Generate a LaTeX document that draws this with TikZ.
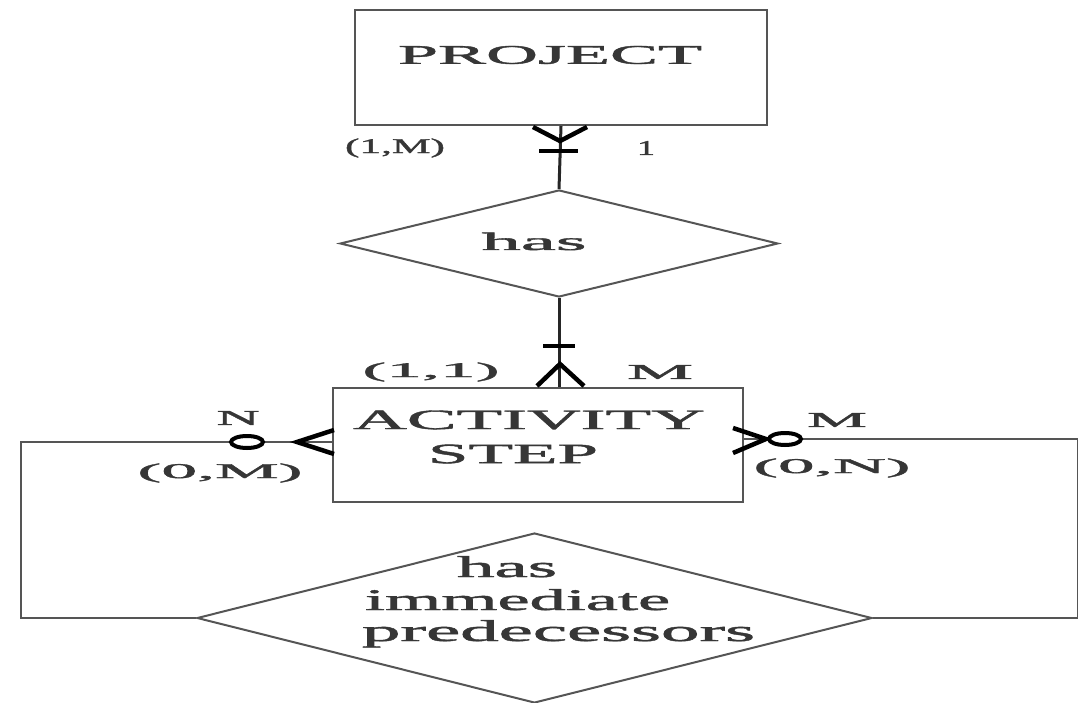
\documentclass[tikz,border=0pt]{standalone}
\usepackage{fontspec}
\setmainfont{Liberation Serif}[FakeBold=1.3]
\usetikzlibrary{shapes.geometric}
\definecolor{ink}{HTML}{363636}
\definecolor{edge}{HTML}{555555}
% stretch a text horizontally to a given width (pt), keeping its height
\newcommand{\widen}[2]{\resizebox{#1pt}{\height}{#2}}

\begin{document}
\begin{tikzpicture}[x=1pt,y=-1pt,
  entity/.style={draw=edge, line width=2pt, rectangle, inner sep=0pt},
  relation/.style={draw=edge, line width=2pt, diamond, inner sep=0pt},
  txt/.style={inner sep=0pt, text=ink},
  big/.style={txt, font=\fontsize{27}{30}\selectfont},
  card/.style={txt, font=\fontsize{21}{24}\selectfont},
  conn/.style={draw=black!85, line width=3pt},
  loopline/.style={draw=edge, line width=2pt},
  foot/.style={draw=black, line width=4.5pt},
  ring/.style={draw=black, line width=4pt, fill=white}]
\useasboundingbox (0,0) rectangle (1078,703);

% entities and relationships
\node[entity, minimum width=412pt, minimum height=115pt] (project) at (561,67.5) {};
\node[relation, minimum width=438pt, minimum height=107pt] (has) at (559,243.5) {};
\node[entity, minimum width=410pt, minimum height=114pt] (activity) at (538,445) {};
\node[relation, minimum width=675pt, minimum height=170pt] (pred) at (534.5,618) {};

% their texts
\node[big] (tProject) at (550,55) {\widen{304}{PROJECT}};
\node[big, font=\fontsize{28}{30}\selectfont] (tAct) at (529,420) {\widen{352}{ACTIVITY}};
\node[big, font=\fontsize{28}{30}\selectfont] (tStep) at (513,454) {\widen{170}{STEP}};
\node[txt, font=\fontsize{25}{28}\selectfont, anchor=base] (tHas) at (534,250) {\widen{105}{has}};
\node[txt, font=\fontsize{30}{32}\selectfont, anchor=base] (tHas2) at (507,577) {\widen{100}{has}};
\node[txt, font=\fontsize{30}{32}\selectfont, anchor=base] (tImm) at (517.5,610) {\widen{305}{immediate}};
\node[txt, font=\fontsize{30}{32}\selectfont, anchor=base] (tPre) at (558.5,641) {\widen{393}{predecessors}};

% connectors
\draw[conn] (project.south) -- (has.north);
\draw[conn] (has.south) -- (has.south |- activity.north);
\draw[loopline] ([yshift=3pt]activity.west) -- ++(-311,0) |- (pred.west);
\draw[loopline] ([yshift=6pt]activity.east) -- ++(334,0) |- (pred.east);

% cardinality marks: PROJECT side
\draw[foot] (project.south) ++(-28,1) -- ++(27,14) -- ++(27,-14);
\draw[foot] (project.south) ++(-22,25) -- ++(39,0);
% ACTIVITY STEP, top
\draw[foot] (has.south |- activity.north) ++(-22,-1) -- ++(23,-22) -- ++(24,22);
\draw[foot] (has.south |- activity.north) ++(-16,-41) -- ++(32,0);
% ACTIVITY STEP, left
\draw[foot] (activity.west) ++(2,-15) -- ++(-37,12) -- ++(37,12);
\draw[ring] (activity.west) ++(-85,-3) ellipse [x radius=16pt, y radius=6pt];
% ACTIVITY STEP, right
\draw[foot] (activity.east) ++(-11,-17) -- ++(33,11) -- ++(-33,14);
\draw[ring] (activity.east) ++(41,-6) ellipse [x radius=16pt, y radius=6pt];

% cardinality labels
\node[card] (c1) at (395,148) {\widen{100}{(1,M)}};
\node[card] (c2) at (646,148) {\widen{18}{1}};
\node[card] (c3) at (431,372) {\widen{137}{(1,1)}};
\node[card] (c4) at (660,372) {\widen{66}{M}};
\node[card] (c5) at (238,418) {\widen{43}{N}};
\node[card] (c6) at (220,473) {\widen{165}{(0,M)}};
\node[card] (c7) at (837,420) {\widen{60}{M}};
\node[card] (c8) at (832,468) {\widen{157}{(0,N)}};
\end{tikzpicture}
\end{document}
